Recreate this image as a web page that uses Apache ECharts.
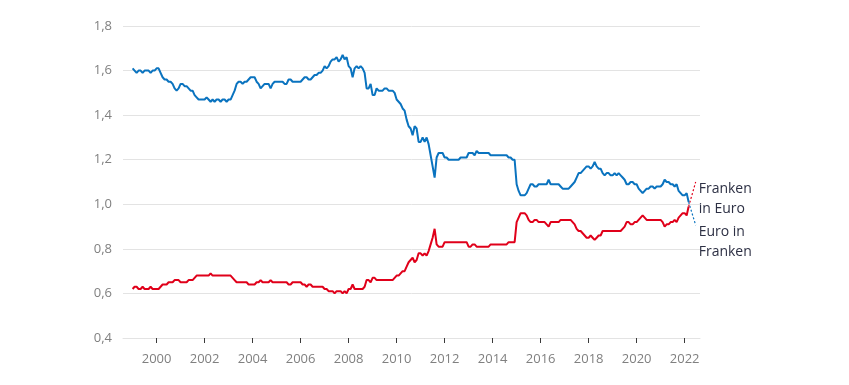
<!DOCTYPE html>
<html>
<head>
<meta charset="utf-8">
<script src="https://cdn.jsdelivr.net/npm/echarts@6/dist/echarts.min.js"></script>
<style>html,body{margin:0;padding:0;background:#fff;}#c{width:849px;height:385px;}</style>
</head>
<body>
<div id="c"></div>
<script>
// Monthly series, January 1999 – March 2022
const startYear = 1999;
const euroInFranken = [
  1.61,1.60,1.59,1.60,1.60,1.59,1.60,1.60,1.60,1.59,1.60,1.60,
  1.61,1.61,1.59,1.57,1.56,1.56,1.55,1.55,1.54,1.52,1.51,1.52,
  1.54,1.54,1.53,1.53,1.52,1.51,1.51,1.49,1.48,1.47,1.47,1.47,
  1.47,1.48,1.47,1.46,1.47,1.46,1.47,1.47,1.46,1.47,1.47,1.46,
  1.47,1.47,1.49,1.51,1.54,1.55,1.55,1.54,1.55,1.55,1.56,1.57,
  1.57,1.57,1.55,1.54,1.52,1.53,1.54,1.54,1.54,1.52,1.54,1.55,
  1.55,1.55,1.55,1.55,1.54,1.54,1.56,1.56,1.55,1.55,1.55,1.55,
  1.55,1.56,1.57,1.57,1.56,1.56,1.57,1.58,1.58,1.59,1.59,1.60,
  1.62,1.61,1.62,1.64,1.65,1.65,1.66,1.64,1.65,1.67,1.65,1.66,
  1.62,1.61,1.57,1.61,1.62,1.61,1.62,1.61,1.59,1.52,1.52,1.54,
  1.49,1.49,1.52,1.51,1.51,1.51,1.52,1.52,1.51,1.51,1.51,1.50,
  1.47,1.46,1.45,1.43,1.42,1.38,1.35,1.34,1.31,1.35,1.34,1.28,
  1.28,1.30,1.28,1.30,1.27,1.22,1.17,1.12,1.21,1.23,1.23,1.23,
  1.21,1.21,1.20,1.20,1.20,1.20,1.20,1.20,1.21,1.21,1.21,1.21,
  1.23,1.23,1.23,1.22,1.24,1.23,1.23,1.23,1.23,1.23,1.23,1.22,
  1.22,1.22,1.22,1.22,1.22,1.22,1.22,1.22,1.21,1.21,1.20,1.20,
  1.09,1.06,1.04,1.04,1.04,1.05,1.07,1.09,1.09,1.08,1.08,1.09,
  1.09,1.09,1.09,1.09,1.11,1.09,1.09,1.09,1.09,1.09,1.08,1.07,
  1.07,1.07,1.07,1.08,1.09,1.10,1.12,1.14,1.14,1.15,1.16,1.17,
  1.17,1.16,1.17,1.19,1.17,1.16,1.16,1.14,1.13,1.14,1.14,1.13,
  1.13,1.14,1.13,1.14,1.13,1.12,1.11,1.09,1.09,1.10,1.10,1.09,
  1.09,1.07,1.06,1.05,1.06,1.07,1.07,1.08,1.08,1.07,1.08,1.08,
  1.08,1.09,1.11,1.10,1.10,1.09,1.09,1.08,1.09,1.06,1.05,1.04,
  1.04,1.05,1.01
];
const frankenInEuro = [
  0.62,0.63,0.63,0.62,0.62,0.63,0.62,0.62,0.62,0.63,0.62,0.62,
  0.62,0.62,0.63,0.64,0.64,0.64,0.65,0.65,0.65,0.66,0.66,0.66,
  0.65,0.65,0.65,0.65,0.66,0.66,0.66,0.67,0.68,0.68,0.68,0.68,
  0.68,0.68,0.68,0.69,0.68,0.68,0.68,0.68,0.68,0.68,0.68,0.68,
  0.68,0.68,0.67,0.66,0.65,0.65,0.65,0.65,0.65,0.65,0.64,0.64,
  0.64,0.64,0.65,0.65,0.66,0.65,0.65,0.65,0.65,0.66,0.65,0.65,
  0.65,0.65,0.65,0.65,0.65,0.65,0.64,0.64,0.65,0.65,0.65,0.65,
  0.65,0.64,0.64,0.63,0.64,0.64,0.63,0.63,0.63,0.63,0.63,0.63,
  0.62,0.62,0.61,0.61,0.61,0.60,0.61,0.61,0.61,0.60,0.61,0.60,
  0.62,0.62,0.64,0.62,0.62,0.62,0.62,0.62,0.63,0.66,0.66,0.65,
  0.67,0.67,0.66,0.66,0.66,0.66,0.66,0.66,0.66,0.66,0.66,0.67,
  0.68,0.68,0.69,0.70,0.70,0.72,0.74,0.75,0.76,0.74,0.75,0.78,
  0.78,0.77,0.78,0.77,0.79,0.82,0.85,0.89,0.82,0.81,0.81,0.81,
  0.83,0.83,0.83,0.83,0.83,0.83,0.83,0.83,0.83,0.83,0.83,0.83,
  0.81,0.81,0.82,0.82,0.81,0.81,0.81,0.81,0.81,0.81,0.81,0.82,
  0.82,0.82,0.82,0.82,0.82,0.82,0.82,0.82,0.83,0.83,0.83,0.83,
  0.92,0.94,0.96,0.96,0.96,0.95,0.93,0.92,0.92,0.93,0.93,0.92,
  0.92,0.92,0.92,0.91,0.90,0.92,0.92,0.92,0.92,0.92,0.93,0.93,
  0.93,0.93,0.93,0.93,0.92,0.91,0.89,0.88,0.88,0.87,0.86,0.85,
  0.85,0.86,0.85,0.84,0.85,0.86,0.86,0.88,0.88,0.88,0.88,0.88,
  0.88,0.88,0.88,0.88,0.88,0.89,0.90,0.92,0.92,0.91,0.91,0.92,
  0.92,0.93,0.94,0.95,0.94,0.93,0.93,0.93,0.93,0.93,0.93,0.93,
  0.93,0.92,0.90,0.91,0.91,0.92,0.92,0.93,0.92,0.94,0.95,0.96,
  0.96,0.95,0.99
];
const yTicks = [0.4, 0.6, 0.8, 1.0, 1.2, 1.4, 1.6, 1.8];
const xTickYears = [2000,2002,2004,2006,2008,2010,2012,2014,2016,2018,2020,2022];
const seriesNames = ['Euro in Franken', 'Franken in Euro'];
const labelTexts = ['Euro in\nFranken', 'Franken\nin Euro'];
// Leader line end points (data space) for the end labels
const leaderX = 2022.46;
const leaderEnds = { euro: 0.906, franken: 1.10 };

const toXY = arr => arr.map((v, i) => [startYear + i / 12, v]);
const blueData = toXY(euroInFranken);
const redData = toXY(frankenInEuro);
const lastBlue = blueData[blueData.length - 1];
const lastRed = redData[redData.length - 1];

const BLUE = '#0a73bf';
const RED = '#e0001a';
const FONT = 'Open Sans';

const chart = echarts.init(document.getElementById('c'), null, { renderer: 'canvas' });
chart.setOption({
  animation: false,
  backgroundColor: '#ffffff',
  grid: { left: 123, right: 149, top: 26, bottom: 47, containLabel: false },
  xAxis: {
    type: 'value',
    min: 1998.6,
    max: 2022.64,
    axisLine: { show: true, lineStyle: { color: '#e3e3e3', width: 1 } },
    axisTick: { show: true, customValues: xTickYears, length: 5, lineStyle: { color: '#3a3a3a', width: 1 } },
    axisLabel: { customValues: xTickYears, color: '#808080', fontSize: 13, fontFamily: FONT, margin: 15, formatter: v => String(Math.round(v)) },
    splitLine: { show: false }
  },
  yAxis: {
    type: 'value',
    min: yTicks[0],
    max: yTicks[yTicks.length - 1],
    interval: 0.2,
    axisLine: { show: false },
    axisTick: { show: false },
    axisLabel: { color: '#808080', fontSize: 13, fontFamily: FONT, margin: 11, formatter: v => v.toFixed(1).replace('.', ',') },
    splitLine: { show: true, lineStyle: { color: '#e3e3e3', width: 1 } }
  },
  series: [
    {
      name: seriesNames[0], type: 'line', data: blueData, showSymbol: false, symbol: 'none',
      lineStyle: { color: BLUE, width: 2 }, z: 3
    },
    {
      name: seriesNames[1], type: 'line', data: redData, showSymbol: false, symbol: 'none',
      lineStyle: { color: RED, width: 2 }, z: 4
    },
    {
      name: 'leaderEuro', type: 'line', data: [lastBlue, [leaderX, leaderEnds.euro]], showSymbol: false, symbol: 'none',
      lineStyle: { color: BLUE, width: 1.2, type: [2, 2] }, z: 2,
      endLabel: { show: true, formatter: labelTexts[0], color: '#2d3044', fontSize: 14, lineHeight: 20, fontFamily: FONT, distance: 3, verticalAlign: 'top', offset: [0, -3] }
    },
    {
      name: 'leaderFranken', type: 'line', data: [lastRed, [leaderX, leaderEnds.franken]], showSymbol: false, symbol: 'none',
      lineStyle: { color: RED, width: 1.2, type: [2, 2] }, z: 2,
      endLabel: { show: true, formatter: labelTexts[1], color: '#2d3044', fontSize: 14, lineHeight: 20, fontFamily: FONT, distance: 3, verticalAlign: 'top', offset: [0, -3] }
    }
  ]
});
</script>
</body>
</html>
